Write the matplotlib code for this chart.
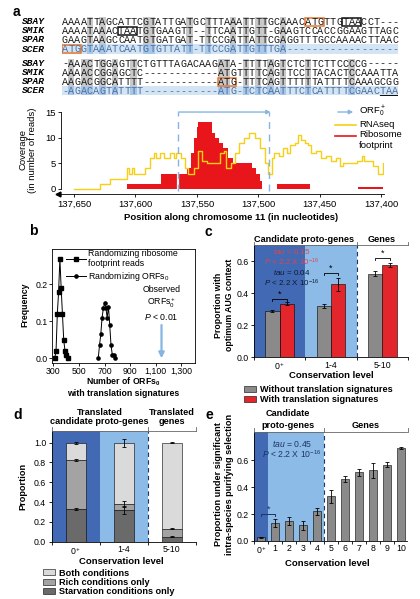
import matplotlib
matplotlib.use("Agg")
import matplotlib.pyplot as plt
import matplotlib.patches as mpatches
import matplotlib.transforms as mtrans
from matplotlib.lines import Line2D
import numpy as np

plt.rcParams['font.family'] = ['Liberation Sans', 'DejaVu Sans']
plt.rcParams['mathtext.fontset'] = 'custom'
plt.rcParams['mathtext.rm'] = 'Liberation Sans'
plt.rcParams['mathtext.it'] = 'Liberation Sans:italic'
plt.rcParams['mathtext.bf'] = 'Liberation Sans:bold'
plt.rcParams['font.size'] = 6.3
plt.rcParams['axes.linewidth'] = 0.6

# --------------------------------------------------
# data
# --------------------------------------------------
seq_names = ["SBAY", "SMIK", "SPAR", "SCER"]
seq_block1 = ["AAAATTAGCATTCGTATTGATGCTTTAAATTTTGCAAACATGTTGTAACCT---",
              "AAAATAAACTAATGTGAAGTT--TTCAATTGTT-GAAGTCCACCGGAAGTTAGC",
              "GAAGTAAGCCAATGTGATGAT-TTCCGATTATTCGAGGTTTGCCAAAACTTAAC",
              "ATGGTAAATCAATGTGTTATT-TTCCGATTGTTTGA------------------"]
seq_block2 = ["-AAACTGGAGTTCTGTTTAGACAAGATA-TTTTAGTCTCTTCTTCCCCG-----",
              "AAAACCGGAGCTC------------ATGTTTTCAGTTCCTTACACTCCAAATTA",
              "AAGACGGCATTTT------------ATG-TTTCAGTTTTTTATTTTCAAAGCGG",
              "-AGACAGTATTTT------------ATG-TCTCAATTTCTCATTTTCGAACTAA"]
# (block, row, first column, kind)
codon_boxes = [(0, 0, 39, "start"), (0, 0, 45, "stop"), (0, 1, 9, "stop"),
               (0, 3, 0, "start"), (1, 2, 25, "start"), (1, 3, 51, "orf_stop")]

# RNAseq coverage (position, reads), steps
rna_pos = [137650, 137629, 137621, 137607, 137605, 137603, 137601, 137592, 137588,
           137585, 137583, 137580, 137577, 137572, 137569, 137567, 137563, 137560,
           137557, 137552, 137549, 137546, 137542, 137531, 137528, 137526, 137522,
           137519, 137516, 137512, 137508, 137503, 137499, 137495, 137492, 137489,
           137487, 137483, 137480, 137477, 137474, 137470, 137468, 137465, 137462,
           137460, 137457, 137453, 137449, 137445, 137441, 137437, 137434, 137431,
           137420, 137416, 137414, 137407, 137403, 137399, 137398]
rna_cov = [0, 1, 2, 4, 3, 4, 3, 4, 6,
           7, 6, 7, 6, 7, 6, 7, 6, 4,
           3, 4, 7.5, 5.5, 5, 7, 7.5, 4, 5,
           7, 9, 10, 11, 10, 8, 5, 3, 6,
           7, 6.5, 8, 7, 8.5, 9, 10.5, 9.5, 9,
           8.5, 7, 7.5, 6, 6.5, 5.5, 6, 4.5, 5,
           5.5, 6.5, 5.5, 4.5, 3, 5, 5]

# ribosome footprint coverage (position, reads), steps
fp_pos = [137607, 137579, 137558, 137555, 137552, 137550, 137549, 137538, 137535,
          137532, 137529, 137525, 137521, 137505, 137502, 137499, 137497,
          137485, 137458, 137419, 137399]
fp_cov = [1, 3, 4, 7, 10, 12, 13, 11, 10,
          9, 8, 6, 5, 4, 3, 1.5, 0,
          1, 0, 0.4, 0]

orf_start, orf_end = 137565, 137491

# panel b
b_fp_x = [310, 320, 330, 340, 350, 360, 370, 380, 390, 400, 410]
b_fp_y = [0.0, 0.02, 0.12, 0.18, 0.27, 0.19, 0.12, 0.05, 0.02, 0.01, 0.0]
b_orf_x = [650, 660, 670, 680, 690, 700, 710, 720, 730, 740, 750, 760, 770, 780]
b_orf_y = [0.0, 0.035, 0.065, 0.11, 0.135, 0.15, 0.135, 0.11, 0.14, 0.09, 0.035, 0.01, 0.01, 0.0]
b_observed = 1145

# panel c
c_levels = ["0$^+$", "1-4", "5-10"]
c_without = [0.29, 0.32, 0.52]
c_without_err = [0.005, 0.015, 0.015]
c_with = [0.335, 0.455, 0.575]
c_with_err = [0.01, 0.04, 0.01]
c_sig = [0.365, 0.525, 0.62]

# panel d
d_levels = ["0$^+$", "1-4", "5-10"]
d_starv = [0.33, 0.32, 0.05]
d_rich = [0.49, 0.06, 0.08]
d_both = [0.18, 0.62, 0.87]
d_starv_err = [0.01, 0.04, 0.004]
d_rich_err = [0.01, 0.03, 0.004]
d_both_err = [0.01, 0.04, 0.004]

# panel e
e_levels = ["0$^+$", "1", "2", "3", "4", "5", "6", "7", "8", "9", "10"]
e_prop = [0.028, 0.135, 0.145, 0.115, 0.22, 0.33, 0.46, 0.51, 0.525, 0.565, 0.69]
e_err = [0.004, 0.03, 0.03, 0.03, 0.025, 0.05, 0.02, 0.025, 0.055, 0.02, 0.005]

# --------------------------------------------------
# colours / helpers
# --------------------------------------------------
DARK = '#4169b4'
LIGHT = '#8cbbe8'
NAVY = '#1d3566'
RED = '#e3262b'
GREY = '#8a8a8a'
ARROW = '#86b5e2'
YELLOW = '#f5d015'

W, H = 420, 599
fig = plt.figure(figsize=(W / 100, H / 100), dpi=100)


def box(l, t, r, b):
    return [l / W, 1 - b / H, (r - l) / W, (b - t) / H]


def fp(x, y):
    return x / W, 1 - y / H


def ftext(x, y, s, **kw):
    kw.setdefault("ha", "center")
    kw.setdefault("va", "center")
    fig.text(x / W, 1 - y / H, s, **kw)


def ticks(ax, size=6.3, length=2.5, pad=1.5):
    ax.tick_params(direction='out', length=length, width=0.6, pad=pad, labelsize=size)


# --------------------------------------------------
# a: alignment
# --------------------------------------------------
axs = fig.add_axes(box(61.9, 17, 398.3, 95.5))
axs.set_xlim(-0.5, 53.5)
axs.set_ylim(8.1, -0.516)
axs.axis('off')
for b, block in enumerate([seq_block1, seq_block2]):
    off = 4.6 * b
    ncol = len(block[0])
    for c in range(ncol):
        col = [s[c] for s in block]
        conserved = col[0] != '-' and all(ch == col[0] for ch in col)
        for r in range(4):
            if r == 3:
                fc = '#a8c7e8' if conserved else '#d3e5f5'
            elif conserved:
                fc = '#c9c9c9'
            else:
                continue
            axs.add_patch(mpatches.Rectangle((c - 0.5, r + off - 0.5), 1, 1, fc=fc, ec='none'))
    for r in range(4):
        axs.text(-6.9, r + off, seq_names[r], ha='left', va='center', fontsize=6.8,
                 family='Liberation Mono', weight='bold', style='italic')
        for c, ch in enumerate(block[r]):
            axs.text(c, r + off, ch, ha='center', va='center', fontsize=7.3,
                     family='Liberation Mono',
                     color='#4c6f9e' if r == 3 else '#1a1a1a')
for b, r, c, kind in codon_boxes:
    off = 4.6 * b
    if kind == 'start':
        axs.add_patch(mpatches.Rectangle((c - 0.5, r + off - 0.45), 3, 0.9, fc='none',
                                         ec='#e8772e', lw=1.1))
    elif kind == 'stop':
        axs.add_patch(mpatches.Rectangle((c - 0.5, r + off - 0.45), 3, 0.9, fc='none',
                                         ec='#111111', lw=1.1))
    else:
        axs.add_patch(mpatches.Rectangle((c - 0.5, r + off - 0.45), 3, 0.9, fc='#34506e',
                                         ec='#111111', lw=1.0, zorder=0.5))

# --------------------------------------------------
# a: coverage
# --------------------------------------------------
ax = fig.add_axes(box(58, 110.5, 384, 194.1))
ax.set_xlim(137663, 137397.8)
ax.set_ylim(-1, 15.3)
ax.fill_between(fp_pos, fp_cov, step='post', color='#e8161b', lw=0)
ax.vlines(orf_start, 0, 15, color='white', lw=1.6)
ax.plot(rna_pos, rna_cov, drawstyle='steps-post', color=YELLOW, lw=1.0)
ax.vlines([orf_start, orf_end], -0.4, 15, color=ARROW, lw=1.0, linestyles=(0, (5, 4)))
ax.annotate('', xy=(orf_end - 1, 15), xytext=(orf_start, 15),
            arrowprops=dict(arrowstyle='-|>', color=ARROW, lw=1.0, mutation_scale=6,
                            shrinkA=0, shrinkB=0))
for s in ['top', 'right']:
    ax.spines[s].set_visible(False)
ax.spines['left'].set_position(('data', 137660.5))
ax.spines['left'].set_bounds(0, 15)
ax.plot([0], [0], marker='<', ms=3.5, color='k', transform=ax.transAxes, clip_on=False)
ax.set_xticks(np.arange(137650, 137399, -50))
ax.set_xticklabels([f"{v:,}" for v in np.arange(137650, 137399, -50)])
ax.set_yticks([0, 5, 10, 15])
ticks(ax, 6.8)

ftext(28, 150, "Coverage\n(in number of reads)", rotation=90, fontsize=6.8, linespacing=1.1)
ftext(231, 217, "Position along chromosome 11 (in nucleotides)", fontsize=6.8, weight='bold')
# legend of a
fig.add_artist(mpatches.FancyArrowPatch(fp(335, 112), fp(356, 112), transform=fig.transFigure,
                                        arrowstyle='-|>', mutation_scale=6, color=ARROW, lw=1.0))
fig.add_artist(Line2D([335 / W, 356 / W], [1 - 125 / H] * 2, color=YELLOW, lw=1.2))
fig.add_artist(Line2D([335 / W, 356 / W], [1 - 135.7 / H] * 2, color='#e8161b', lw=1.2))
ftext(359, 111.5, "ORF$_0^+$", ha='left', fontsize=6.8)
ftext(359, 124, "RNAseq", ha='left', fontsize=6.8)
ftext(359, 140, "Ribosome\nfootprint", ha='left', fontsize=6.8, linespacing=1.15)
ftext(16, 12, "a", fontsize=10, weight='bold')

# --------------------------------------------------
# b
# --------------------------------------------------
axb = fig.add_axes(box(51.7, 249.3, 195, 362.7))
axb.plot(b_fp_x, b_fp_y, '-s', color='k', ms=3.2, lw=0.7,
         label="Randomizing ribosome\nfootprint reads")
axb.plot(b_orf_x, b_orf_y, '-o', color='k', ms=2.3, lw=0.7,
         label="Randomizing ORFs$_0$")
axb.set_xlim(286, 1407)
axb.set_ylim(-0.012, 0.295)
axb.set_xticks([300, 500, 700, 900, 1100, 1300])
axb.set_xticklabels(['300', '500', '700', '900', '1,100', '1,300'])
axb.set_yticks([0, 0.1, 0.2])
axb.set_yticklabels(['0.0', '0.1', '0.2'])
ticks(axb, length=2, pad=0.8)
axb.annotate('', xy=(b_observed, 0.0), xytext=(b_observed, 0.09),
             arrowprops=dict(arrowstyle='-|>', color=ARROW, lw=1.6, mutation_scale=8,
                             shrinkA=0, shrinkB=0))
axb.text(b_observed, 0.148, "Observed\nORFs$_0^+$\n$P$ < 0.01", ha='center', va='center',
         fontsize=6.3, linespacing=1.25)
axb.legend(loc='upper left', bbox_to_anchor=fp(66, 249), bbox_transform=fig.transFigure,
           frameon=False, fontsize=6.3, handlelength=2.3, handletextpad=0.2,
           labelspacing=0.15, borderpad=0, numpoints=1, borderaxespad=0)
ftext(25, 305, "Frequency", rotation=90, weight='bold')
ftext(123, 387, "Number of ORFs$_\\mathbf{0}$\nwith translation signatures", weight='bold',
      linespacing=1.2)
ftext(33, 231, "b", fontsize=10, weight='bold')


def level_axes(ax, n, dark_to, light_to, top):
    ax.set_xlim(-0.5, n - 0.5 if n > 3 else 2.5)
    ax.axvspan(-0.5, dark_to, color=DARK, lw=0, zorder=0)
    ax.axvspan(dark_to, light_to, color=LIGHT, lw=0, zorder=0)
    ax.axvline(light_to, color=NAVY, lw=0.8, ls=(0, (4, 3)), zorder=0.5)
    ax.set_ylim(0, top)
    ax.spines['right'].set_visible(False)
    ax.spines['top'].set_color('#666666')
    ax.set_xticks(np.arange(-0.5, n, 1.0), minor=True)
    ax.tick_params(axis='x', which='major', length=0, pad=2.5, labelsize=6.3)
    ax.tick_params(axis='x', which='minor', length=2.5, width=0.6, direction='out')
    ax.tick_params(axis='y', direction='out', length=2.5, width=0.6, pad=1.5, labelsize=6.3)
    tr = mtrans.blended_transform_factory(ax.transData, ax.transAxes)
    xl = ax.get_xlim()
    for xb in [xl[0], light_to, xl[1]]:
        ax.plot([xb, xb], [1.0, 1.03], color='#666666', lw=0.6, transform=tr, clip_on=False)


# --------------------------------------------------
# c
# --------------------------------------------------
axc = fig.add_axes(box(254, 245, 408, 357.3))
level_axes(axc, 3, 0.5, 1.5, 0.70)
xc = np.arange(len(c_levels))
axc.bar(xc - 0.14, c_without, 0.28, color=GREY, ec='k', lw=0.4, zorder=2,
        label="Without translation signatures")
axc.bar(xc + 0.14, c_with, 0.28, color=RED, ec='k', lw=0.4, zorder=2,
        label="With translation signatures")
axc.errorbar(xc - 0.14, c_without, yerr=c_without_err, fmt='none', ecolor='k',
             elinewidth=0.6, capsize=1.3, capthick=0.6, zorder=3)
axc.errorbar(xc + 0.14, c_with, yerr=c_with_err, fmt='none', ecolor='k',
             elinewidth=0.6, capsize=1.3, capthick=0.6, zorder=3)
for i, s in enumerate(c_sig):
    axc.plot([i - 0.14, i - 0.14, i + 0.14, i + 0.14], [s - 0.012, s, s, s - 0.012],
             color='k', lw=0.6, zorder=3)
    axc.text(i, s + 0.003, "*", ha='center', va='bottom', fontsize=6.5, zorder=3)
axc.set_xticks(xc)
axc.set_xticklabels(c_levels)
axc.set_yticks([0, 0.2, 0.4, 0.6])
axc.set_yticklabels(['0.0', '0.2', '0.4', '0.6'])
for yv, s, col in [(0.658, "$\\it{tau}$ = 0.15", '#e0454a'),
                   (0.592, "$P$ < 2.2 X 10$^{-16}$", '#e0454a'),
                   (0.526, "$\\it{tau}$ = 0.04", '#101a30'),
                   (0.46, "$P$ < 2.2 X 10$^{-16}$", '#101a30')]:
    axc.text(0.23, yv, s, color=col, ha='center', va='center', fontsize=5.8)
ftext(304, 239, "Candidate proto-genes", weight='bold', fontsize=6.6)
ftext(381.7, 239, "Genes", weight='bold', fontsize=6.6)
ftext(224, 305, "Proportion with\noptimum AUG context", rotation=90, weight='bold',
      linespacing=1.25)
ftext(331, 376, "Conservation level", weight='bold', fontsize=6.8)
axc.legend(loc='upper left', bbox_to_anchor=fp(244, 385.5), bbox_transform=fig.transFigure,
           frameon=False, prop=dict(size=6.6, weight='bold'), handlelength=1.3,
           handleheight=0.65, handletextpad=0.4, labelspacing=0.05, borderpad=0,
           borderaxespad=0)
ftext(208, 232, "c", fontsize=10, weight='bold')

# --------------------------------------------------
# d
# --------------------------------------------------
axd = fig.add_axes(box(51.7, 430.7, 196, 541.7))
level_axes(axd, 3, 0.5, 1.5, 1.12)
xd = np.arange(len(d_levels))
bot_rich = np.array(d_starv)
bot_both = bot_rich + np.array(d_rich)
axd.bar(xd, d_starv, 0.42, color='#6a6a6a', ec='k', lw=0.4, zorder=2,
        label="Starvation conditions only")
axd.bar(xd, d_rich, 0.42, bottom=bot_rich, color='#a3a3a3', ec='k', lw=0.4, zorder=2,
        label="Rich conditions only")
axd.bar(xd, d_both, 0.42, bottom=bot_both, color='#dadada', ec='k', lw=0.4, zorder=2,
        label="Both conditions")
for tops, err in [(bot_rich, d_starv_err), (bot_both, d_rich_err),
                  (bot_both + np.array(d_both), d_both_err)]:
    axd.errorbar(xd, tops, yerr=err, fmt='none', ecolor='k', elinewidth=0.6,
                 capsize=1.3, capthick=0.6, zorder=3)
axd.set_xticks(xd)
axd.set_xticklabels(d_levels)
axd.set_yticks([0, 0.2, 0.4, 0.6, 0.8, 1.0])
axd.set_yticklabels(['0.0', '0.2', '0.4', '0.6', '0.8', '1.0'])
ftext(100, 412.7, "Translated", weight='bold', fontsize=6.6)
ftext(99.5, 421.7, "candidate proto-genes", weight='bold', fontsize=6.6)
ftext(171.7, 412.7, "Translated", weight='bold', fontsize=6.6)
ftext(171.7, 421.7, "genes", weight='bold', fontsize=6.6)
ftext(23, 486, "Proportion", rotation=90, weight='bold', fontsize=6.6)
ftext(121, 561.7, "Conservation level", weight='bold', fontsize=6.8)
hd, ld = axd.get_legend_handles_labels()
axd.legend(hd[::-1], ld[::-1], loc='upper left', bbox_to_anchor=fp(43, 568.5),
           bbox_transform=fig.transFigure, frameon=False, prop=dict(size=6.6, weight='bold'),
           handlelength=1.3, handleheight=0.6, handletextpad=0.4, labelspacing=0.05,
           borderpad=0, borderaxespad=0)
ftext(17.5, 415, "d", fontsize=10, weight='bold')

# --------------------------------------------------
# e
# --------------------------------------------------
axe = fig.add_axes(box(254.3, 431.7, 407.3, 541))
level_axes(axe, 11, 0.5, 4.5, 0.81)
axe.set_xlim(-0.5, 10.45)
xe = np.arange(len(e_levels))
axe.bar(xe, e_prop, 0.55, color=GREY, ec='k', lw=0.4, zorder=2)
axe.errorbar(xe, e_prop, yerr=e_err, fmt='none', ecolor='k', elinewidth=0.6,
             capsize=1.3, capthick=0.6, zorder=3)
axe.plot([0, 0, 1, 1], [0.185, 0.197, 0.197, 0.185], color=NAVY, lw=0.7, zorder=3)
axe.text(0.5, 0.2, "*", ha='center', va='bottom', fontsize=6.5, color=NAVY, zorder=3)
axe.set_xticks(xe)
axe.set_xticklabels(e_levels)
axe.set_yticks([0, 0.2, 0.4, 0.6])
axe.set_yticklabels(['0.0', '0.2', '0.4', '0.6'])
axe.text(2.2, 0.722, "$\\it{tau}$ = 0.45", color=NAVY, ha='center', va='center', fontsize=6.2)
axe.text(2.2, 0.642, "$P$ < 2.2 X 10$^{-16}$", color=NAVY, ha='center', va='center', fontsize=6.2)
ftext(288, 414, "Candidate", weight='bold', fontsize=6.6)
ftext(288, 425, "proto-genes", weight='bold', fontsize=6.6)
ftext(366, 425, "Genes", weight='bold', fontsize=6.6)
ftext(224, 484, "Proportion under significant\nintra-species purifying selection",
      rotation=90, weight='bold', fontsize=6.6, linespacing=1.25)
ftext(327, 563.3, "Conservation level", weight='bold', fontsize=6.8)
ftext(209, 415, "e", fontsize=10, weight='bold')

fig.savefig("out.png", dpi=100)
